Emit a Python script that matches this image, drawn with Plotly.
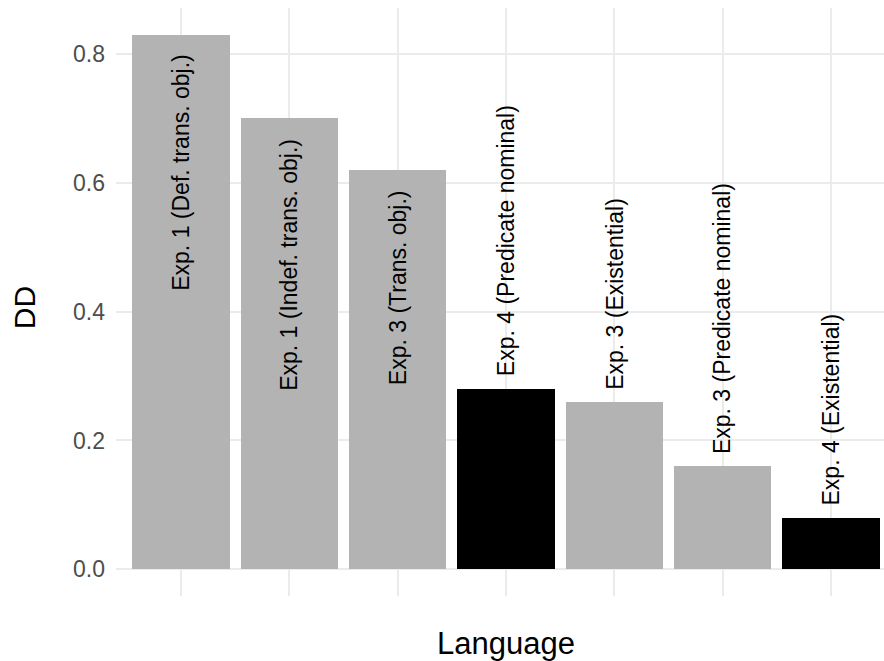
import plotly.graph_objects as go

labels = [
    "Exp. 1 (Def. trans. obj.)",
    "Exp. 1 (Indef. trans. obj.)",
    "Exp. 3 (Trans. obj.)",
    "Exp. 4 (Predicate nominal)",
    "Exp. 3 (Existential)",
    "Exp. 3 (Predicate nominal)",
    "Exp. 4 (Existential)",
]
dd_values = [0.83, 0.70, 0.62, 0.28, 0.26, 0.16, 0.08]
experiment = ["other", "other", "other", "exp4", "other", "other", "exp4"]
y_ticks = [0.0, 0.2, 0.4, 0.6, 0.8]

color_map = {"other": "#b3b3b3", "exp4": "#000000"}
positions = list(range(1, len(labels) + 1))

FONT = "Liberation Sans, Arial, sans-serif"

fig = go.Figure()
fig.add_trace(go.Bar(
    x=positions,
    y=dd_values,
    width=0.9,
    marker=dict(color=[color_map[e] for e in experiment], line=dict(width=0)),
    showlegend=False,
    hoverinfo="skip",
))

annotations = []
for xpos, v, lab in zip(positions, dd_values, labels):
    if v > 0.5:
        annotations.append(dict(x=xpos, y=v - 0.028, xref="x", yref="y", text=lab,
                                textangle=-90, showarrow=False, xanchor="center", yanchor="top",
                                font=dict(family=FONT, size=23, color="#000000")))
    else:
        annotations.append(dict(x=xpos, y=v + 0.016, xref="x", yref="y", text=lab,
                                textangle=-90, showarrow=False, xanchor="center", yanchor="bottom",
                                font=dict(family=FONT, size=23, color="#000000")))

# axis titles
annotations.append(dict(x=4, y=-0.0815, xref="x", yref="paper", text="Language",
                        showarrow=False, xanchor="center", yanchor="middle",
                        font=dict(family=FONT, size=31, color="#000000")))
annotations.append(dict(x=-0.118, y=0.49, xref="paper", yref="paper", text="DD",
                        textangle=-90, showarrow=False, xanchor="center", yanchor="middle",
                        font=dict(family=FONT, size=30, color="#000000")))

fig.update_layout(
    width=884, height=661,
    margin=dict(l=116, r=0, t=8, b=65),
    paper_bgcolor="white", plot_bgcolor="white",
    bargap=0,
    annotations=annotations,
    xaxis=dict(range=[0.4, 7.489], tickvals=positions, ticktext=[""] * len(positions),
               showgrid=True, gridcolor="#ebebeb", gridwidth=1.5, zeroline=False,
               showline=False, ticks=""),
    yaxis=dict(range=[-0.0415, 0.8715], tickvals=y_ticks,
               ticktext=[f"{t:.1f}" for t in y_ticks],
               showgrid=True, gridcolor="#ebebeb", gridwidth=1.5, zeroline=False,
               showline=False, ticks="", ticklabelstandoff=10,
               tickfont=dict(family=FONT, size=23, color="#4d4d4d")),
)

fig.write_html("out.html", config={"displayModeBar": False},
               post_script="document.body.style.margin='0';")
